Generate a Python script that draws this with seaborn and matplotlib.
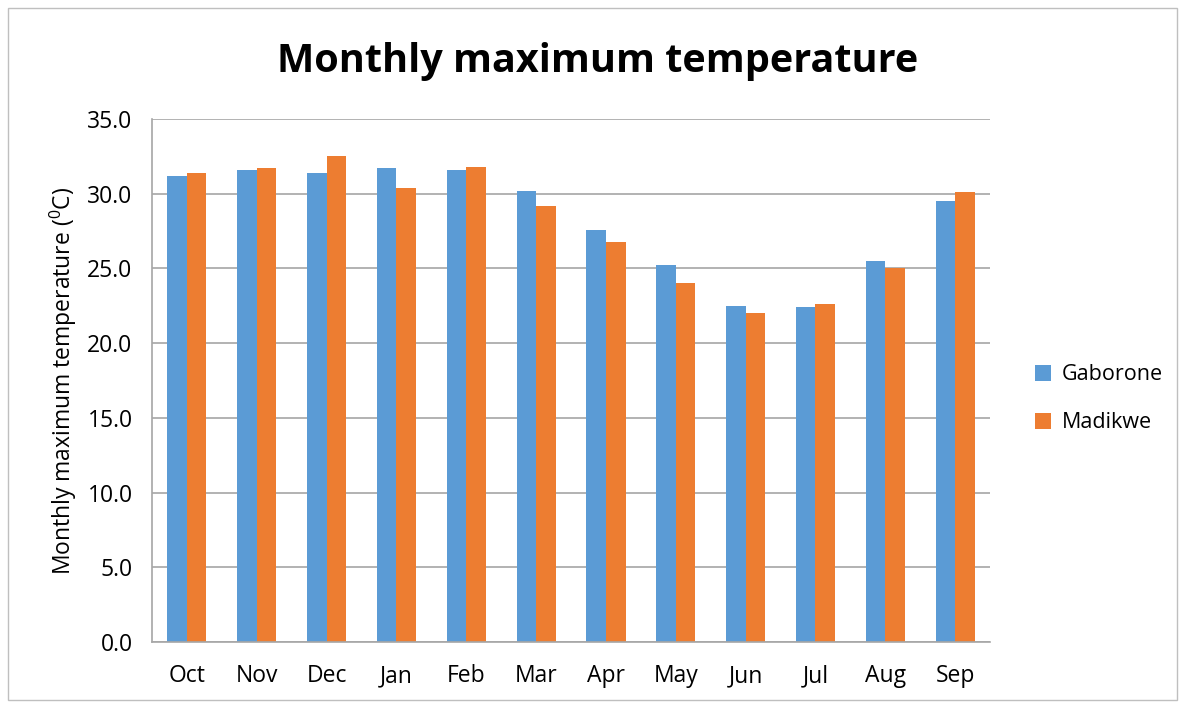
import matplotlib
matplotlib.use("Agg")
import matplotlib.pyplot as plt
import numpy as np
import pandas as pd
import seaborn as sns

months = ["Oct", "Nov", "Dec", "Jan", "Feb", "Mar", "Apr", "May", "Jun", "Jul", "Aug", "Sep"]
gaborone = [31.2, 31.6, 31.4, 31.7, 31.6, 30.2, 27.6, 25.2, 22.5, 22.4, 25.5, 29.5]
madikwe = [31.4, 31.7, 32.5, 30.4, 31.8, 29.2, 26.8, 24.0, 22.0, 22.6, 25.0, 30.1]
y_ticks = [0, 5, 10, 15, 20, 25, 30, 35]

df = pd.DataFrame({
    "Month": months * 2,
    "Station": ["Gaborone"] * len(months) + ["Madikwe"] * len(months),
    "Temp": gaborone + madikwe,
})

sns.set_style("white")
plt.rcParams["font.family"] = ["Open Sans", "DejaVu Sans"]
plt.rcParams["text.color"] = "black"
plt.rcParams["xtick.labelcolor"] = "black"
plt.rcParams["ytick.labelcolor"] = "black"
plt.rcParams["axes.labelcolor"] = "black"

fig = plt.figure(figsize=(11.83, 7.05), dpi=100)
ax = fig.add_axes([0.1285, 0.0894, 0.7084, 0.7418])

sns.barplot(data=df, x="Month", y="Temp", hue="Station", order=months,
            palette={"Gaborone": "#5b9bd5", "Madikwe": "#ed7d31"},
            width=0.56, gap=0, saturation=1, edgecolor="none", ax=ax)

ax.set_ylim(0, 35)
ax.set_xlim(-0.5, len(months) - 0.5)
ax.set_yticks(y_ticks)
ax.set_yticklabels([f"{v:.1f}" for v in y_ticks], fontsize=16.5)
ax.tick_params(axis="x", labelsize=16.5, length=0, pad=16)
ax.set_xticks(np.arange(-0.5, len(months)), minor=True)
ax.tick_params(axis="x", which="minor", length=6, color="#a6a6a6", width=1)
ax.tick_params(axis="y", length=6, color="#a6a6a6", width=1, pad=8)
ax.yaxis.grid(True, color="#a6a6a6", linewidth=1.2)
ax.set_axisbelow(True)
for s in ["top", "right"]:
    ax.spines[s].set_visible(False)
for s in ["left", "bottom"]:
    ax.spines[s].set_color("#a6a6a6")
    ax.spines[s].set_linewidth(1.2)

ax.set_xlabel("")
ax.set_ylabel(r"Monthly maximum temperature ($\mathregular{^0}$C)", fontsize=16.5, labelpad=6)
fig.suptitle("Monthly maximum temperature", fontsize=28.5, fontweight="bold", x=0.505, y=0.94)

ax.legend(title=None, frameon=False, fontsize=15.5, loc="center left",
          bbox_to_anchor=(1.03, 0.465), handlelength=0.75, handleheight=0.75,
          labelspacing=1.25, handletextpad=0.5)

fig.patches.append(plt.Rectangle((0.007, 0.007), 0.988, 0.982, transform=fig.transFigure,
                                 fill=False, edgecolor="#bfbfbf", linewidth=1))

fig.savefig("out.png", dpi=100)
